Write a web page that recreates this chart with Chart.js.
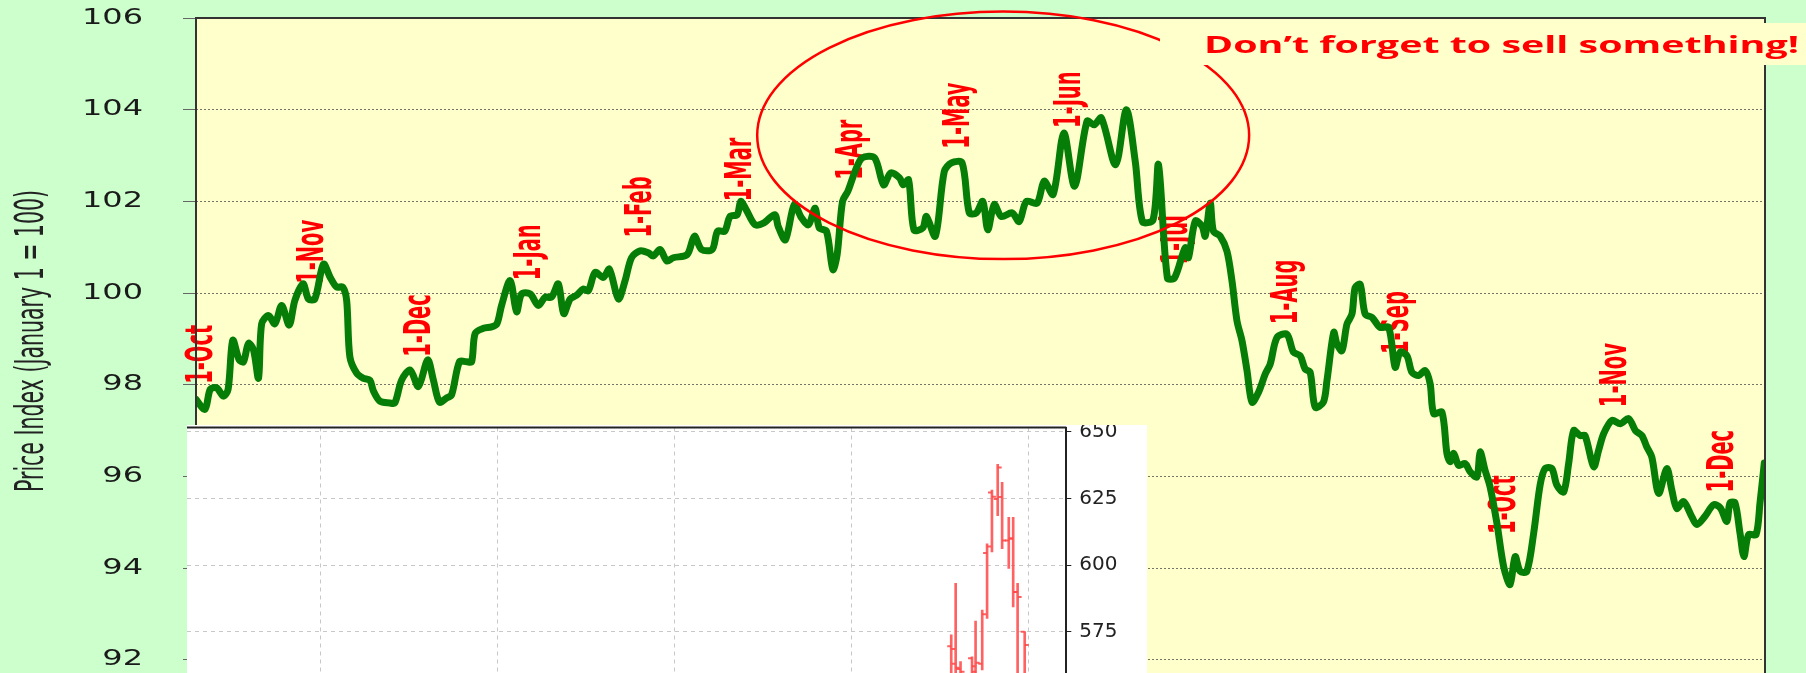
<!DOCTYPE html>
<html lang="en">
<head>
<meta charset="UTF-8">
<title>Price Index</title>
<script src="https://cdn.jsdelivr.net/npm/chart.js"></script>
<style>
  body { margin: 0; background: #ccffcc; }
  .wrap { position: relative; width: 1806px; height: 673px; overflow: hidden; }
  #main { position: absolute; left: 0; top: 0; }
  #inset { position: absolute; left: 187px; top: 425px; }
</style>
</head>
<body>
<div class="wrap">
  <canvas id="main" width="1806" height="673"></canvas>
  <canvas id="inset" width="960" height="248"></canvas>
</div>
<script>
// days counted from 1-Oct, index values
const days = [0, 2.5, 4, 5.8, 7.7, 9, 10.3, 12.1, 13.3, 14.7, 16.1, 17.5, 18.4, 20.3, 22.1, 24, 26.1, 27.7, 30, 31.5,
  33.3, 35.7, 37.6, 39.4, 41.1, 42.2, 43.1, 45, 46.9, 48.7, 49.7, 51.5, 54.3, 55.7, 57.6, 60, 62.3, 64.9, 66.5, 68.2,
  70.2, 71.6, 73.8, 75.8, 77.2, 78.2, 80.5, 82.8, 84.3, 85.6, 88, 89.8, 91.2, 93.6, 95.9, 97.8, 99.6, 101.5, 103, 104.8,
  106.6, 108.5, 109.9, 111.8, 114.1, 115.8, 118.3, 120.2, 122, 124.4, 126.7, 128.1, 130, 131.9, 133.7, 137.6, 139.6, 141.6, 144.6, 146.1,
  148.1, 149.6, 151.6, 152.6, 154.1, 156.6, 159.1, 162.1, 163.1, 165.1, 167.6, 169.6, 171.6, 173.4, 174.6, 176.6, 178.4, 179.6, 181.1, 182.6,
  184.6, 186.6, 190.1, 192.6, 194.6, 197.1, 198.1, 199.6, 201.1, 203.6, 204.6, 207.1, 209.6, 211.6, 214.6, 216.6, 218.6, 220.4, 221.8, 223.6,
  225.6, 228.6, 230.6, 232.6, 235.6, 237.6, 240.1, 243.1, 246.1, 249.6, 251.6, 253.6, 257.6, 260.6, 263.1, 265.1, 268.1, 269.6, 272.1, 274.1,
  277.1, 278, 279.9, 281.8, 282.7, 284.1, 285, 286.9, 288.8, 290.2, 291.6, 293, 294.4, 295.8, 297.6, 299.5, 300.9, 302.8, 305.6, 307.4,
  309.3, 310.7, 312.1, 313.5, 315.8, 316.8, 318.7, 319.6, 321, 322.4, 323.8, 324.7, 326.1, 327.5, 329.4, 331.7, 334.1, 335.9, 337.3, 339.2,
  340.6, 342.5, 344.3, 345.7, 346.7, 349, 350.4, 351.3, 352.3, 353.7, 355.5, 356.9, 358.8, 359.7, 361.1, 362.5, 364.4, 366.3, 368.1, 369.5,
  370.9, 372.8, 374.7, 376.5, 377.9, 379.8, 381.2, 383.1, 384.5, 385.9, 387.7, 389.1, 391.5, 392.9, 394.3, 396.6, 399, 401.3, 403.2, 405,
  406.4, 407.8, 409.7, 412, 413.4, 414.8, 416.7, 419, 420.4, 422.7, 425.1, 427, 428.8, 429.7, 431.1, 432.5, 433.6, 434.9, 437, 438.1, 439.3];
const priceIndex = [97.68, 97.46, 97.9, 97.93, 97.75, 97.9, 98.97, 98.54, 98.5, 98.9, 98.76, 98.14, 99.33, 99.51, 99.33, 99.73, 99.3, 99.84, 100.2, 99.87,
  99.87, 100.63, 100.34, 100.13, 100.13, 99.84, 98.61, 98.25, 98.14, 98.1, 97.86, 97.64, 97.6, 97.6, 98.1, 98.32, 97.96, 98.54, 98.1, 97.62,
  97.71, 97.78, 98.5, 98.5, 98.5, 99.12, 99.23, 99.26, 99.33, 99.73, 100.27, 99.59, 99.98, 99.98, 99.73, 99.91, 99.91, 100.2, 99.55, 99.87,
  99.95, 100.09, 100.05, 100.45, 100.34, 100.52, 99.87, 100.27, 100.77, 100.92, 100.88, 100.81, 100.95, 100.7, 100.77, 100.84, 101.24, 100.95, 100.95, 101.35,
  101.35, 101.67, 101.71, 102.0, 101.82, 101.49, 101.53, 101.71, 101.45, 101.16, 101.93, 101.64, 101.49, 101.85, 101.42, 101.35, 100.51, 100.84, 102.0, 102.22,
  102.65, 102.95, 102.95, 102.36, 102.62, 102.51, 102.36, 102.47, 101.38, 101.42, 101.67, 101.24, 102.65, 102.84, 102.84, 101.75, 101.75, 102.0, 101.38, 101.93,
  101.67, 101.75, 101.56, 102.0, 101.96, 102.44, 102.15, 103.49, 102.33, 103.75, 103.67, 103.82, 102.8, 104.0, 102.87, 101.56, 101.6, 102.8, 100.33, 100.33,
  100.99, 100.77, 101.57, 101.46, 101.24, 101.96, 101.35, 101.24, 100.91, 100.26, 99.39, 98.96, 98.31, 97.62, 97.83, 98.23, 98.45, 99.03, 99.1, 98.71,
  98.63, 98.34, 98.27, 97.51, 97.62, 98.09, 99.14, 98.89, 98.74, 99.32, 99.54, 100.12, 100.19, 99.54, 99.47, 99.25, 99.25, 98.38, 98.71, 98.63,
  98.27, 98.2, 98.31, 98.02, 97.37, 97.4, 96.5, 96.32, 96.5, 96.24, 96.28, 96.1, 95.99, 96.53, 96.13, 95.77, 94.98, 94.03, 93.64, 94.25,
  93.93, 93.93, 94.76, 95.81, 96.17, 96.17, 95.81, 95.66, 96.28, 97.0, 96.89, 96.89, 96.21, 96.57, 96.93, 97.22, 97.15, 97.26, 97.0, 96.89,
  96.64, 96.42, 95.63, 96.17, 95.7, 95.3, 95.45, 95.12, 94.95, 95.13, 95.38, 95.31, 95.02, 95.42, 95.42, 94.76, 94.25, 94.73, 94.73, 95.42, 96.29];

const yTicks = [92, 94, 96, 98, 100, 102, 104, 106];

// month markers: day of the 1st and the index level where the label starts
const monthNames = ['1-Oct', '1-Nov', '1-Dec', '1-Jan', '1-Feb', '1-Mar', '1-Apr', '1-May', '1-Jun', '1-Jul', '1-Aug', '1-Sep', '1-Oct', '1-Nov', '1-Dec'];
const monthDays = [0, 31, 61, 92, 123, 151, 182, 212, 243, 273, 304, 335, 365, 396, 426];
const monthLabelAt = [98.02, 100.2, 98.61, 100.28, 101.21, 102.0, 102.47, 103.15, 103.6, 100.62, 99.32, 98.67, 94.74, 97.51, 95.65];

// inset price bars
const ohlcX = [162.5, 163.5, 164.6, 167.2, 168.0, 169.5, 170.6, 171.7, 173.0, 174.0, 175.5, 176.5, 177.5, 179.1];
const ohlcOpen = [569.5, 563, 561, 565, 562, 563, 604.5, 627.2, 624.8, 625.5, 609.2, 610, 589.9, 575];
const ohlcHigh = [573.8, 593.1, 563.8, 565.6, 579.0, 583.1, 608.0, 628.1, 637.8, 631.0, 617.9, 617.9, 593.1, 575];
const ohlcLow = [555, 555, 555, 555, 555, 560.7, 580.0, 604.9, 618.5, 606.1, 598.7, 584.3, 555, 555];
const ohlcClose = [568.5, 561.5, 560, 560, 563.3, 581.5, 607, 625.6, 636.6, 609.2, 610, 589.9, 588, 570];
const insetTicks = [575, 600, 625, 650];
const insetGrid = [20, 60, 100, 140, 180];

const NOTE = 'Don\u2019t forget to sell something!';
const NARROW = '"Liberation Sans Narrow", "DejaVu Sans Condensed", "Roboto", sans-serif';

const mainDecor = {
    id: 'mainDecor',
    beforeDraw(chart) {
        const { ctx, chartArea: a } = chart;
        ctx.save();
        ctx.fillStyle = '#ccffcc';
        ctx.fillRect(0, 0, chart.width, chart.height);
        ctx.fillStyle = '#ffffcc';
        ctx.fillRect(a.left, a.top, a.right - a.left, a.bottom - a.top);
        ctx.restore();
    },
    beforeDatasetsDraw(chart) {
        const { ctx, scales: { x, y } } = chart;
        ctx.save();
        ctx.font = 'bold 37px ' + NARROW;
        const sx = 64 / ctx.measureText('1-Nov').width;
        ctx.fillStyle = '#ff0000';
        ctx.textAlign = 'left';
        ctx.textBaseline = 'alphabetic';
        monthNames.forEach((m, i) => {
            ctx.save();
            ctx.translate(x.getPixelForValue(monthDays[i]) + 3, y.getPixelForValue(monthLabelAt[i]));
            ctx.rotate(-Math.PI / 2);
            ctx.scale(sx, 1);
            ctx.fillText(m, 0, 13);
            ctx.restore();
        });
        ctx.restore();
    },
    afterDatasetsDraw(chart) {
        const { ctx, chartArea: a, scales: { x, y } } = chart;
        ctx.save();

        // plot frame
        ctx.strokeStyle = '#333';
        ctx.lineWidth = 2;
        ctx.strokeRect(a.left, a.top, a.right - a.left, a.bottom - a.top + 10);

        // ellipse round the spring top
        const cx = x.getPixelForValue(226.1), cy = y.getPixelForValue(103.44);
        const rx = x.getPixelForValue(226.1 + 68.9) - cx;
        const ry = cy - y.getPixelForValue(103.44 + 2.7);
        ctx.strokeStyle = '#ff0000';
        ctx.lineWidth = 2.5;
        ctx.beginPath();
        ctx.ellipse(cx, cy, rx, ry, 0, 0, Math.PI * 2);
        ctx.stroke();

        // note box
        ctx.fillStyle = '#ffffcc';
        ctx.fillRect(1160, 23, 646, 42);
        ctx.font = 'bold 24px "Open Sans", Lato, sans-serif';
        const nw = ctx.measureText(NOTE).width;
        ctx.fillStyle = '#ff0000';
        ctx.textAlign = 'left';
        ctx.textBaseline = 'alphabetic';
        ctx.save();
        ctx.translate(1204, 53);
        ctx.scale(595 / nw, 1);
        ctx.fillText(NOTE, 0, 0);
        ctx.restore();

        // y tick labels (wide face)
        ctx.font = '22px "DejaVu Sans", Verdana, sans-serif';
        const tsx = 61 / ctx.measureText('102').width;
        ctx.fillStyle = '#1a1a1a';
        ctx.textAlign = 'right';
        ctx.textBaseline = 'middle';
        yTicks.forEach(v => {
            ctx.save();
            ctx.translate(143, y.getPixelForValue(v));
            ctx.scale(tsx, 1);
            ctx.fillText(String(v), 0, 0);
            ctx.restore();
        });

        // y axis title
        const title = 'Price Index (January 1 = 100)';
        ctx.font = '39px ' + NARROW;
        const ttw = ctx.measureText(title).width;
        ctx.fillStyle = '#222';
        ctx.textAlign = 'center';
        ctx.save();
        ctx.translate(33, 341);
        ctx.rotate(-Math.PI / 2);
        ctx.scale(302 / ttw, 1);
        ctx.fillText(title, 0, 0);
        ctx.restore();

        ctx.restore();
    }
};

new Chart(document.getElementById('main'), {
    type: 'line',
    data: {
        datasets: [{
            data: days.map((d, i) => ({ x: d, y: priceIndex[i] })),
            borderColor: '#067d06',
            borderWidth: 7,
            borderJoinStyle: 'round',
            borderCapStyle: 'round',
            pointRadius: 0,
            tension: 0.3,
            fill: false
        }]
    },
    options: {
        responsive: false,
        animation: false,
        layout: { padding: { left: 0, right: 41, top: 18, bottom: 0 } },
        plugins: { legend: { display: false }, tooltip: { enabled: false } },
        scales: {
            x: { type: 'linear', min: 0, max: 439.5, display: false },
            y: {
                min: 91.71,
                max: 106,
                afterBuildTicks: s => { s.ticks = yTicks.map(v => ({ value: v })); },
                afterFit: s => { s.width = 196; s.paddingTop = 0; s.paddingBottom = 0; },
                ticks: { display: false },
                grid: { color: 'rgba(70,70,70,0.75)', lineWidth: 1, tickLength: 13, tickColor: '#666', tickBorderDash: [] },
                border: { display: false, dash: [2, 2] }
            }
        }
    },
    plugins: [mainDecor]
});

const insetDecor = {
    id: 'insetDecor',
    beforeDraw(chart) {
        const { ctx } = chart;
        ctx.save();
        ctx.fillStyle = '#ffffff';
        ctx.fillRect(0, 0, chart.width, chart.height);
        ctx.restore();
    },
    afterDatasetsDraw(chart) {
        const { ctx, chartArea: a, scales: { x, y } } = chart;
        ctx.save();
        ctx.beginPath();
        ctx.rect(a.left, a.top, a.right - a.left, a.bottom - a.top);
        ctx.clip();
        ctx.strokeStyle = 'rgba(255,70,70,0.85)';
        ctx.lineWidth = 2;
        ohlcX.forEach((v, i) => {
            const px = x.getPixelForValue(v);
            const po = y.getPixelForValue(ohlcOpen[i]);
            const pc = y.getPixelForValue(ohlcClose[i]);
            ctx.beginPath();
            ctx.moveTo(px - 4, po);
            ctx.lineTo(px, po);
            ctx.moveTo(px, pc);
            ctx.lineTo(px + 4, pc);
            ctx.stroke();
        });
        ctx.restore();

        // top spine
        ctx.save();
        ctx.strokeStyle = '#222';
        ctx.lineWidth = 2;
        ctx.beginPath();
        ctx.moveTo(0, a.top);
        ctx.lineTo(a.right, a.top);
        ctx.stroke();
        ctx.restore();
    }
};

new Chart(document.getElementById('inset'), {
    type: 'bar',
    data: {
        datasets: [{
            data: ohlcX.map((v, i) => ({ x: v, y: [ohlcLow[i], ohlcHigh[i]] })),
            backgroundColor: 'rgba(255,70,70,0.85)',
            borderWidth: 0,
            barThickness: 2,
            grouped: false
        }]
    },
    options: {
        responsive: false,
        animation: false,
        layout: { padding: { left: 0, right: 0, top: 2.5, bottom: 0 } },
        plugins: { legend: { display: false }, tooltip: { enabled: false } },
        scales: {
            x: {
                type: 'linear',
                min: -10.2,
                max: 188.5,
                offset: false,
                afterBuildTicks: s => { s.ticks = insetGrid.map(v => ({ value: v })); },
                afterFit: s => { s.height = 0; },
                ticks: { display: false },
                grid: { color: '#c8c8c8', drawTicks: false, offset: false },
                border: { display: false, dash: [4, 4] }
            },
            y: {
                position: 'right',
                min: 559.5,
                max: 651.6,
                afterBuildTicks: s => { s.ticks = insetTicks.map(v => ({ value: v })); },
                afterFit: s => { s.width = 80.7; s.paddingTop = 0; s.paddingBottom = 0; },
                ticks: { color: '#222', font: { family: 'DejaVu Sans', size: 20 }, padding: 8 },
                grid: { color: '#c8c8c8', tickLength: 5, tickColor: '#222', tickBorderDash: [] },
                border: { display: true, color: '#222', width: 2, dash: [4, 4] }
            }
        }
    },
    plugins: [insetDecor]
});
</script>
</body>
</html>
